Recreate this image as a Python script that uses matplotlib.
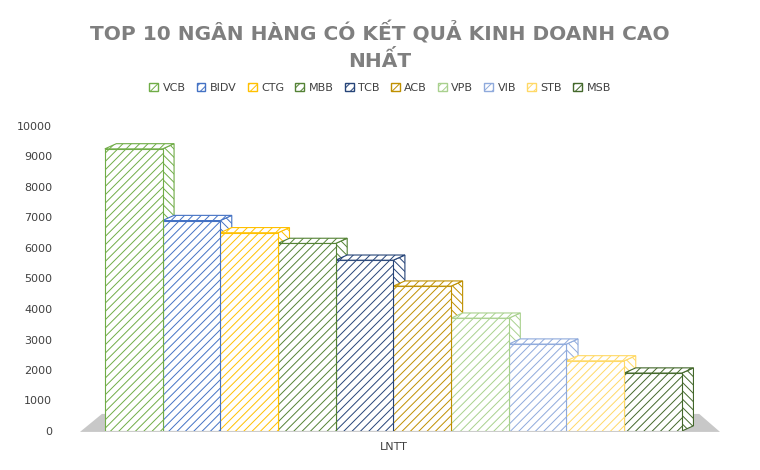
import matplotlib
matplotlib.use("Agg")
import matplotlib.pyplot as plt
from matplotlib.patches import Polygon, Patch

plt.rcParams['font.family'] = ['DejaVu Sans']
plt.rcParams['hatch.linewidth'] = 0.7

banks = ["VCB", "BIDV", "CTG", "MBB", "TCB", "ACB", "VPB", "VIB", "STB", "MSB"]
values = [9250, 6900, 6500, 6150, 5600, 4750, 3700, 2850, 2300, 1900]
colors = ["#70AD47", "#4472C4", "#FFC000", "#548235", "#264478",
          "#BF9000", "#A9D18E", "#8FAADC", "#FFD966", "#43682B"]
yticks = list(range(0, 10001, 1000))
category = "LNTT"

fig = plt.figure(figsize=(7.6, 4.7), dpi=100)
ax = fig.add_axes([80/760, 39/470, 640/760, 305/470])
ax.set_xlim(-0.43, 10.66)
ax.set_ylim(0, 10000)

floor = Polygon([(-0.43, -30), (10.66, -30), (10.3, 560), (-0.05, 560)],
                closed=True, facecolor="#C8C8C8", edgecolor="none", zorder=0, clip_on=False)
ax.add_patch(floor)

dx, dy = 0.2, 170
for i, (v, c) in enumerate(zip(values, colors)):
    ax.bar(i, v, width=1, align="edge", facecolor="white", edgecolor=c,
           hatch="////", linewidth=0.8, zorder=2 + 10 - i)
    top = Polygon([(i, v), (i + 1, v), (i + 1 + dx, v + dy), (i + dx, v + dy)],
                  closed=True, facecolor="white", edgecolor=c, hatch="////",
                  linewidth=0.8, zorder=2 + 10 - i)
    side = Polygon([(i + 1, 0), (i + 1 + dx, dy), (i + 1 + dx, v + dy), (i + 1, v)],
                   closed=True, facecolor="white", edgecolor=c, hatch="\\\\\\\\",
                   linewidth=0.8, zorder=1 + 10 - i)
    ax.add_patch(side)
    ax.add_patch(top)

for s in ax.spines.values():
    s.set_visible(False)
ax.set_yticks(yticks)
ax.set_yticklabels([str(t) for t in yticks], fontsize=8, color="#404040")
ax.tick_params(axis="y", length=0, pad=20)
ax.set_xticks([5])
ax.set_xticklabels([category], fontsize=8, color="#404040")
ax.tick_params(axis="x", length=0, pad=8)

fig.text(0.5, 0.955, "TOP 10 NGÂN HÀNG CÓ KẾT QUẢ KINH DOANH CAO\nNHẤT",
         ha="center", va="top", fontsize=14.5, fontweight="bold", color="#7F7F7F",
         linespacing=1.35)

handles = [Patch(facecolor="white", edgecolor=c, hatch="////", label=b)
           for b, c in zip(banks, colors)]
fig.legend(handles=handles, loc="center", bbox_to_anchor=(0.5, 1 - 88/470),
           ncol=10, frameon=False, fontsize=8, handlelength=0.8, handleheight=0.8,
           columnspacing=1.0, handletextpad=0.4, labelcolor="#404040")

fig.savefig("out.png", dpi=100)
